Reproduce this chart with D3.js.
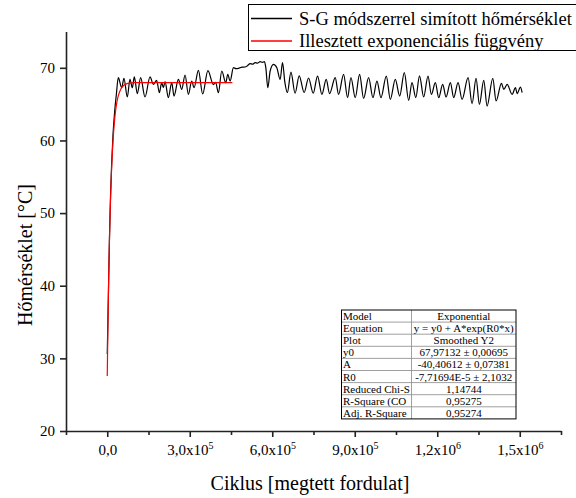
<!DOCTYPE html>
<html>
<head>
<meta charset="utf-8">
<script src="https://cdn.jsdelivr.net/npm/d3@7"></script>
<style>
  html, body { margin: 0; padding: 0; background: #fff; }
  svg { display: block; }
  text { font-family: "Liberation Serif", "Times New Roman", serif; fill: #000; }
</style>
</head>
<body>
<svg id="chart" width="576" height="498"></svg>
<script>
// Savitzky-Golay smoothed temperature vs. cycle count
const cycles = [
  0, 2500, 5000, 8000, 12000, 16000, 21000, 27000, 33000, 40200,
  52300, 60800, 72900, 82650, 91150, 98430, 109350, 121500, 137300, 155500,
  167600, 179700, 189500, 197900, 204000, 210100, 222200, 234400, 242900, 258600,
  270800, 282900, 295000, 307200, 315700, 331500, 347000, 366000, 386000, 394000,
  404200, 416400, 430900, 438200, 446700, 458900, 468000, 477100, 490000, 501300,
  510000, 519600, 528000, 537800, 546000, 556000, 564000, 571700, 576600, 583900,
  592400, 604500, 616600, 628800, 637300, 646000, 655000, 668000, 683000, 698000,
  716000, 732000, 749000, 764700, 780500, 796300, 808400, 829000, 841200, 859400,
  873900, 886100, 901800, 917600, 932200, 950400, 966200, 980700, 995300, 1014700,
  1029300, 1047500, 1063300, 1080300, 1096000, 1108200, 1122000, 1135500, 1150600, 1166400,
  1178600, 1193100, 1205300, 1219800, 1232000, 1247700, 1259900, 1275700, 1290200, 1312100,
  1326600, 1341200, 1353300, 1369100, 1381200, 1401900, 1414000, 1433400, 1441900, 1454100,
  1472300, 1484400, 1490500, 1502600, 1508700
];
const temperature = [
  30.6, 35.5, 40.5, 46.5, 52.5, 56.8, 60.8, 64.0, 66.3, 68.64,
  67.26, 68.55, 65.98, 68.41, 67.26, 68.74, 66.44, 68.64, 65.98, 68.74,
  67.72, 68.28, 66.57, 67.95, 67.26, 68.09, 65.89, 67.95, 66.11, 68.41,
  67.03, 69.01, 66.34, 68.18, 67.26, 69.66, 66.4, 69.6, 67.7, 68.0,
  66.57, 69.56, 67.95, 69.10, 68.18, 70.02, 69.9, 69.93, 70.1, 70.11,
  70.3, 70.57, 70.5, 70.71, 70.65, 70.85, 70.75, 70.85, 70.02, 67.26,
  69.56, 70.48, 70.02, 68.41, 70.71, 67.96, 66.6, 69.4, 66.5, 68.9,
  66.6, 68.6, 66.5, 68.87, 66.34, 68.41, 66.44, 68.64, 66.34, 69.10,
  65.89, 68.64, 65.89, 69.10, 65.79, 68.64, 65.89, 68.18, 65.89, 68.87,
  65.66, 68.41, 66.11, 69.33, 65.52, 67.95, 65.9, 68.9, 65.98, 68.87,
  66.34, 67.95, 65.89, 67.72, 65.98, 67.95, 65.89, 67.95, 65.66, 68.64,
  65.06, 68.55, 64.97, 68.28, 64.74, 68.55, 65.43, 67.86, 67.03, 67.72,
  66.34, 67.26, 66.44, 67.35, 66.57
];

// Fitted exponential y = y0 + A*exp(R0*x), sampled along the fit range
const fitCycles = [0, 2500, 5000, 7500, 10000, 12500, 15000, 20000, 25000, 30000,
  35000, 40000, 50000, 60000, 70000, 80000, 100000, 455000];
const fitTemperature = [27.565, 34.65, 40.50, 45.32, 49.29, 52.57, 55.27, 59.34, 62.10, 63.98,
  65.26, 66.13, 67.12, 67.577, 67.789, 67.887, 67.953, 67.971];

// Axis ticks
const yMajorTicks = [20, 30, 40, 50, 60, 70];
const yMinorTicks = [25, 35, 45, 55, 65, 75];
const xMajorTicks = [0, 300000, 600000, 900000, 1200000, 1500000];
const xMinorTicks = [-150000, 150000, 450000, 750000, 1050000, 1350000, 1650000];
const xTickMantissa = ["0,0", "3,0x10", "6,0x10", "9,0x10", "1,2x10", "1,5x10"];
const xTickExponent = ["", "5", "5", "5", "6", "6"];

// Legend entries
const legendLabels = ["S-G módszerrel simított hőmérséklet", "Illesztett exponenciális függvény"];
const legendColors = ["#000000", "#ff0000"];

// Fit report table
const tableKeys = ["Model", "Equation", "Plot", "y0", "A", "R0", "Reduced Chi-S", "R-Square (CO", "Adj. R-Square"];
const tableValues = ["Exponential", "y = y0 + A*exp(R0*x)", "Smoothed Y2", "67,97132 ± 0,00695",
  "-40,40612 ± 0,07381", "-7,71694E-5 ± 2,1032", "1,14744", "0,95275", "0,95274"];

const svg = d3.select("#chart");

const x = d3.scaleLinear().domain([-150000, 1650000]).range([66, 561]);
const y = d3.scaleLinear().domain([20, 75]).range([431, 31.5]);

const axisColor = "#222";

// Y axis
const gy = svg.append("g").attr("transform", "translate(66,0)");
gy.call(d3.axisLeft(y).tickValues(yMinorTicks).tickSize(3).tickSizeOuter(0).tickFormat(""));
gy.call(d3.axisLeft(y).tickValues(yMajorTicks).tickSize(6).tickSizeOuter(0).tickPadding(5)
  .tickFormat(d => d));
gy.selectAll("path, line").attr("stroke", axisColor).attr("stroke-width", 1.6);
gy.selectAll("text").attr("font-size", 15).attr("font-family", "Liberation Serif");

// X axis
const gx = svg.append("g").attr("transform", "translate(0,431)");
gx.call(d3.axisBottom(x).tickValues(xMinorTicks).tickSize(4).tickSizeOuter(0).tickFormat(""));
const gxMajor = gx.append("g");
gxMajor.call(d3.axisBottom(x).tickValues(xMajorTicks).tickSize(6).tickSizeOuter(0).tickPadding(9)
  .tickFormat(""));
gx.selectAll("path, line").attr("stroke", axisColor).attr("stroke-width", 1.6);
gxMajor.select(".domain").remove();
gxMajor.selectAll(".tick").each(function(d, i) {
  const t = d3.select(this).append("text")
    .attr("y", 24)
    .attr("text-anchor", "middle")
    .attr("font-size", 15)
    .attr("fill", "#000");
  t.append("tspan").text(xTickMantissa[i]);
  if (xTickExponent[i]) {
    t.append("tspan").attr("dy", -6).attr("font-size", 10).text(xTickExponent[i]);
  }
});

// Axis titles
svg.append("text")
  .attr("transform", "translate(32,255) rotate(-90)")
  .attr("text-anchor", "middle")
  .attr("font-size", 20)
  .text("Hőmérséklet [°C]");
svg.append("text")
  .attr("x", 310).attr("y", 490)
  .attr("text-anchor", "middle")
  .attr("font-size", 20)
  .text("Ciklus [megtett fordulat]");

// Series
const line = d3.line().curve(d3.curveMonotoneX).x(d => x(d[0])).y(d => y(d[1]));
svg.append("path")
  .datum(cycles.map((c, i) => [c, temperature[i]]))
  .attr("fill", "none").attr("stroke", "#000").attr("stroke-width", 1.2)
  .attr("d", line);
svg.append("path")
  .datum(fitCycles.map((c, i) => [c, fitTemperature[i]]))
  .attr("fill", "none").attr("stroke", "#ff0000").attr("stroke-width", 1.2)
  .attr("d", line);

// Legend
const lg = svg.append("g");
lg.append("rect").attr("x", 248.5).attr("y", 4.5).attr("width", 340).attr("height", 46)
  .attr("fill", "#fff").attr("stroke", "#000").attr("stroke-width", 1);
legendLabels.forEach((lab, i) => {
  const cy = 18.5 + i * 22.5;
  lg.append("line").attr("x1", 251).attr("x2", 292).attr("y1", cy).attr("y2", cy)
    .attr("stroke", legendColors[i]).attr("stroke-width", 1.3);
  lg.append("text").attr("x", 299).attr("y", cy + 6).attr("font-size", 18.5).text(lab);
});

// Fit report table
const tx0 = 341.5, tx1 = 411.5, tx2 = 516, ty0 = 310, rowH = 12.1;
const tg = svg.append("g");
tg.append("rect").attr("x", tx0).attr("y", ty0).attr("width", tx2 - tx0).attr("height", rowH * tableKeys.length)
  .attr("fill", "#fff");
tableKeys.forEach((k, i) => {
  const yy = ty0 + i * rowH;
  if (i > 0) {
    tg.append("line").attr("x1", tx0).attr("x2", tx2).attr("y1", yy).attr("y2", yy)
      .attr("stroke", "#888").attr("stroke-width", 0.8);
  }
  tg.append("text").attr("x", tx0 + 1.5).attr("y", yy + 10).attr("font-size", 11).text(k);
  tg.append("text").attr("x", (tx1 + tx2) / 2).attr("y", yy + 10).attr("font-size", 11)
    .attr("text-anchor", "middle").text(tableValues[i]);
});
tg.append("line").attr("x1", tx1).attr("x2", tx1).attr("y1", ty0).attr("y2", ty0 + rowH * tableKeys.length)
  .attr("stroke", "#888").attr("stroke-width", 0.8);
tg.append("rect").attr("x", tx0).attr("y", ty0).attr("width", tx2 - tx0).attr("height", rowH * tableKeys.length)
  .attr("fill", "none").attr("stroke", "#000").attr("stroke-width", 1);
</script>
</body>
</html>
